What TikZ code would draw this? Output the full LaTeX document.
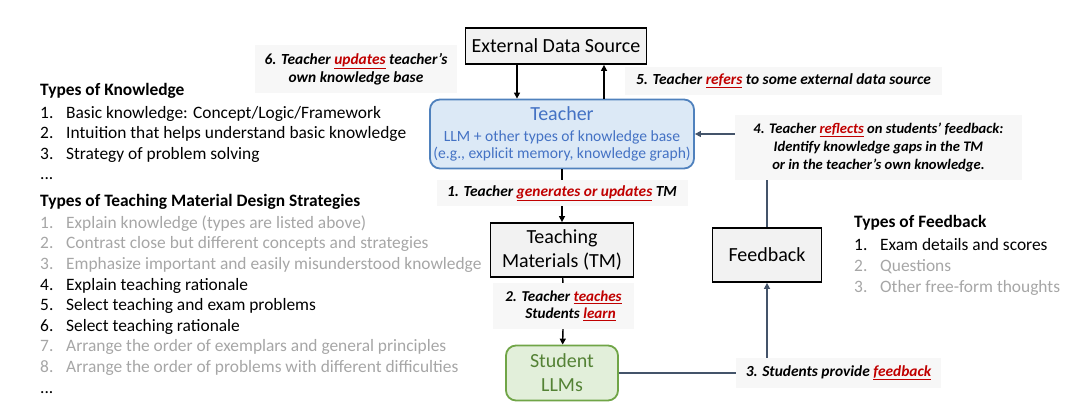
\documentclass[tikz,border=0pt]{standalone}
\usepackage{fontspec}
\setmainfont{Carlito}
\usetikzlibrary{positioning,arrows.meta}
\definecolor{cTea}{RGB}{220,233,246}
\definecolor{cTeaLine}{RGB}{79,129,189}
\definecolor{cTeaText}{RGB}{68,114,196}
\definecolor{cStu}{RGB}{226,239,218}
\definecolor{cStuLine}{RGB}{112,165,71}
\definecolor{cStuText}{RGB}{84,130,53}
\definecolor{cBox}{RGB}{242,242,242}
\definecolor{cLab}{RGB}{247,247,247}
\definecolor{cRed}{RGB}{192,0,0}
\definecolor{cGrey}{RGB}{166,166,166}
\definecolor{cSlate}{RGB}{68,84,106}
\newcommand{\hl}[1]{\textcolor{cRed}{\underline{#1}}}
\newcommand{\itm}[2]{\makebox[26pt][l]{#1}#2}

\begin{document}
\begin{tikzpicture}[
  x=1pt, y=-1pt,
  font=\fontsize{17.4}{20.6}\selectfont,
  box/.style  = {draw, line width=1.8pt, fill=cBox, align=center,
                 font=\fontsize{20}{24}\selectfont},
  lab/.style  = {fill=cLab, align=center, inner sep=0pt,
                 font=\fontsize{#1}{18}\selectfont\bfseries\itshape},
  lab/.default = 15.4,
  arr/.style  = {-{Triangle[length=6pt,width=6pt]}, line width=1.4pt},
  lst/.style  = {anchor=base west, align=left, inner sep=0pt}
]
\useasboundingbox (0,0) rectangle (1080,409);

% ------------------------------------------------------------ the boxes --
\node[box, minimum width=181pt, minimum height=36pt] (eds) at (556,46) {External Data Source};
\node[box, fill=cTea, draw=cTeaLine, text=cTeaText, rounded corners=10pt,
      font=\fontsize{15.6}{17.5}\selectfont,
      minimum width=260pt, minimum height=69pt] (teacher) at (562,134)
  {{\fontsize{20}{24}\selectfont Teacher}\\[3pt]LLM + other types of knowledge base\\(e.g., explicit memory, knowledge graph)};
\node[box, minimum width=143pt, minimum height=54pt] (tm) at (562,250) {Teaching\\Materials (TM)};
\node[box, fill=cStu, draw=cStuLine, text=cStuText, rounded corners=10pt,
      minimum width=112pt, minimum height=55pt] (stu) at (562,373) {Student\\LLMs};
\node[box, minimum width=109pt, minimum height=54pt] (fb) at (767,255) {Feedback};

% ----------------------------------------------------------- the labels --
\node[lab, minimum width=251pt, minimum height=26pt] (l1) at (562,193)
  {1. Teacher \hl{generates or updates} TM};
\node[lab=15.1, minimum width=141pt, minimum height=46pt] (l2) at (563.5,306)
  {2. Teacher \hl{teaches}\\[-1pt]\hspace*{14pt}Students \hl{learn}};
\node[lab, minimum width=205pt, minimum height=30pt] (l3) at (838.5,373)
  {3. Students provide \hl{feedback}};
\node[lab=14.6, minimum width=287pt, minimum height=65pt] (l4) at (878.5,147.5)
  {4. Teacher \hl{reflects} on students' feedback:\\
   Identify knowledge gaps in the TM\\or in the teacher's own knowledge.};
\node[lab, minimum width=317pt, minimum height=28pt] (l5) at (783.5,81)
  {5. Teacher \hl{refers} to some external data source};
\node[lab, minimum width=202pt, minimum height=48pt] (l6) at (356,69)
  {6. Teacher \hl{updates} teacher's\\own knowledge base};

% --------------------------------------------------------- the arrows --
\coordinate (dn) at (517,0);
\coordinate (up) at (604,0);
\draw[arr] (eds.south -| dn) -- (teacher.north -| dn);
\draw[arr] (teacher.north -| up) -- (eds.south -| up);
\draw[line width=1.4pt] (teacher) -- (l1);
\draw[arr] (l1) -- (tm);
\draw[line width=1.4pt] (tm) -- (l2);
\draw[arr] (l2) -- (stu);
\draw[cSlate, line width=1.4pt] (stu) -- (l3);
\draw[arr, cSlate] (l3.north -| fb) -- (fb);
\draw[cSlate, line width=1.4pt] (fb) -- (fb.north |- l4.south);
\draw[arr, cSlate] (l4.west |- teacher.east) -- (teacher.east);

% ---------------------------------------------------------- the lists --
% (base is the baseline of the last line)
\node[lst] (kn) at (40,180) {%
  \textbf{Types of Knowledge}\\[2pt]
  \itm{1.}{Basic knowledge: Concept/Logic/Framework}\\
  \itm{2.}{Intuition that helps understand basic knowledge}\\
  \itm{3.}{Strategy of problem solving}\\
  ...};
\node[lst] (st) at (40,393) {%
  \textbf{Types of Teaching Material Design Strategies}\\[1pt]
  \textcolor{cGrey}{\itm{1.}{Explain knowledge (types are listed above)}}\\
  \textcolor{cGrey}{\itm{2.}{Contrast close but different concepts and strategies}}\\
  \textcolor{cGrey}{\itm{3.}{Emphasize important and easily misunderstood knowledge}}\\
  \itm{4.}{Explain teaching rationale}\\
  \itm{5.}{Select teaching and exam problems}\\
  \itm{6.}{Select teaching rationale}\\
  \textcolor{cGrey}{\itm{7.}{Arrange the order of exemplars and general principles}}\\
  \textcolor{cGrey}{\itm{8.}{Arrange the order of problems with different difficulties}}\\
  ...};
\node[lst] (fl) at (854,292) {%
  \textbf{Types of Feedback}\\[3pt]
  \itm{1.}{Exam details and scores}\\
  \textcolor{cGrey}{\itm{2.}{Questions}}\\
  \textcolor{cGrey}{\itm{3.}{Other free-form thoughts}}};

\end{tikzpicture}
\end{document}
